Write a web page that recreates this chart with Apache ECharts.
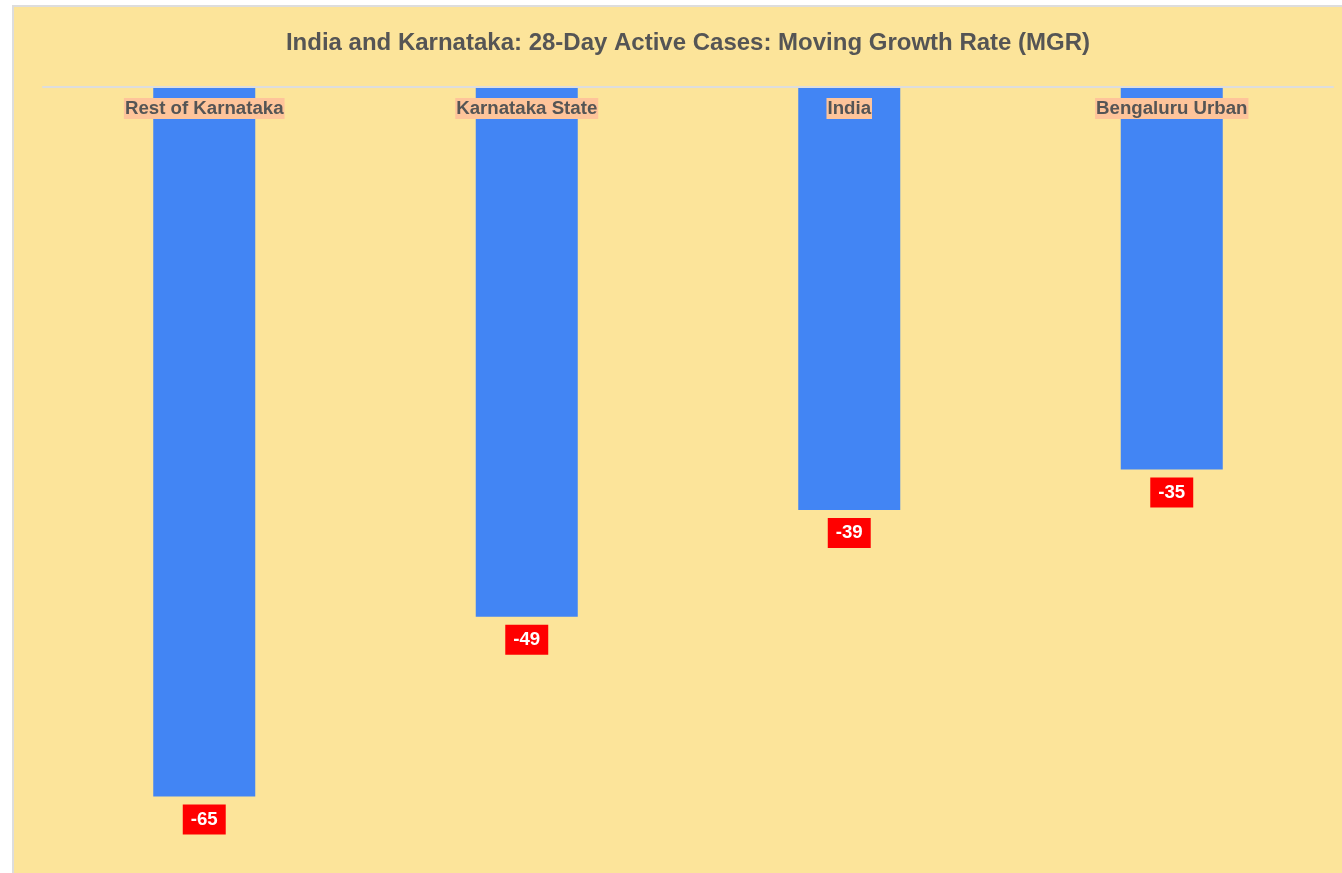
<!DOCTYPE html>
<html>
<head>
<meta charset="utf-8">
<script src="https://cdn.jsdelivr.net/npm/echarts@6/dist/echarts.min.js"></script>
<style>
  body { margin: 0; background: #fff; }
  #MGRChart {
    position: absolute; left: 12px; top: 5px;
    width: 1348px; height: 880px;
    border: 2px solid #ddd;
    background: #fce49a;
  }
</style>
</head>
<body>
<div id="MGRChart"></div>
<script>
var categories = ['Rest of Karnataka', 'Karnataka State', 'India', 'Bengaluru Urban'];
var mgrValues = [-65.1, -48.6, -38.8, -35.1];

var dom = document.getElementById("MGRChart");
var myChart = echarts.init(dom);

var option = {
    backgroundColor: '#fce49a',
    textStyle: { fontFamily: 'Liberation Sans, Arial, sans-serif' },
    title: {
        text: 'India and Karnataka: 28-Day Active Cases: Moving Growth Rate (MGR)',
        left: 'center',
        top: 19,
        textStyle: { fontSize: 24, fontWeight: 'bold', color: '#555' }
    },
    grid: { left: 29, right: 29, top: 80, height: 763 },
    xAxis: {
        type: 'category',
        position: 'top',
        data: categories,
        z: 10,
        axisLine: { lineStyle: { color: '#ddd', width: 2 } },
        axisTick: { show: false },
        axisLabel: {
            inside: true,
            margin: 11,
            color: '#555',
            fontSize: 18.67,
            lineHeight: 19,
            fontWeight: 'bold',
            backgroundColor: '#fec49a',
            padding: [1, 1]
        }
    },
    yAxis: {
        type: 'value',
        min: -70,
        max: 0,
        show: false,
        splitLine: { show: false }
    },
    series: [{
        type: 'bar',
        data: mgrValues,
        barWidth: 102,
        itemStyle: { color: '#4285f4' },
        z: 1,
        label: {
            show: true,
            position: 'bottom',
            distance: 8,
            color: '#fff',
            fontSize: 18.67,
            lineHeight: 19,
            fontWeight: 'bold',
            backgroundColor: '#ff0000',
            padding: [5.5, 8],
            formatter: function (p) { return Math.round(p.value); }
        }
    }]
};
myChart.setOption(option, true);
</script>
</body>
</html>
